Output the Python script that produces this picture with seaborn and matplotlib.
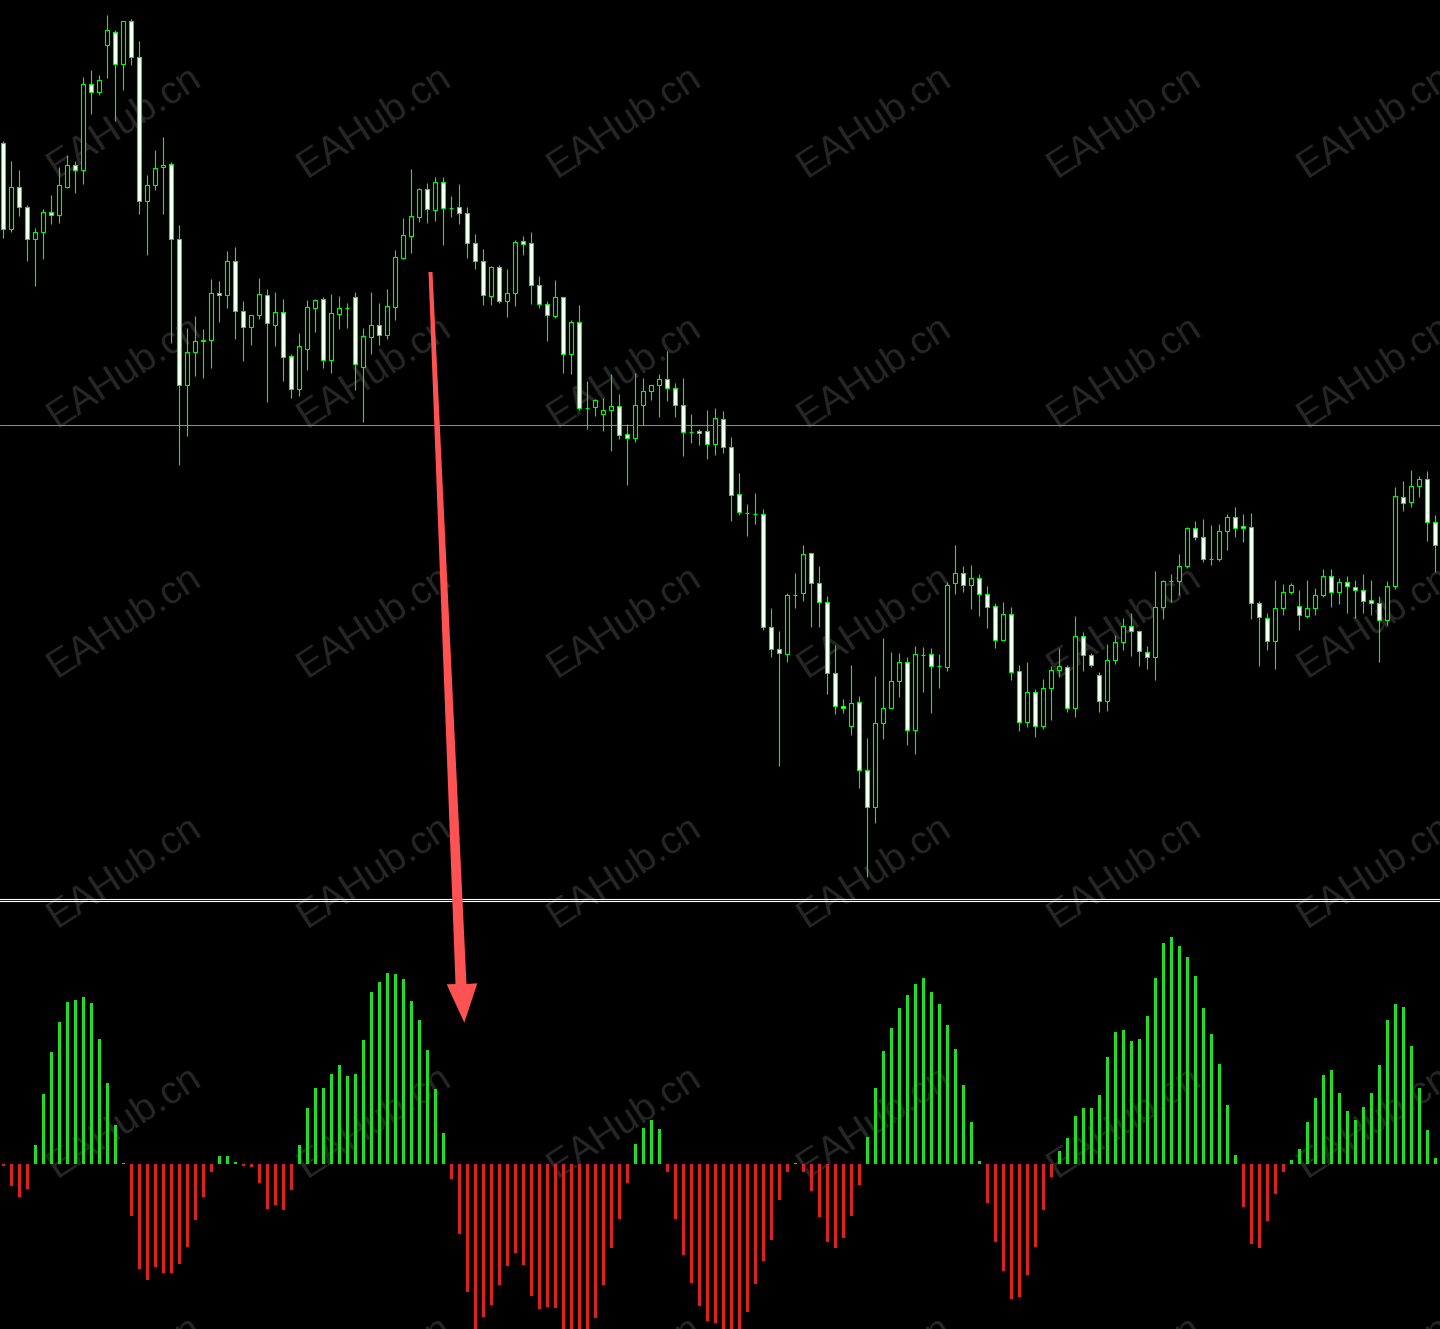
import numpy as np
import pandas as pd
import matplotlib
matplotlib.use("Agg")
import matplotlib.pyplot as plt
from matplotlib.patches import Polygon
import seaborn as sns

# OHLC candles (price units)
opens = [757, 671, 713, 693, 661, 668, 688, 685, 713, 735,
         730, 816, 808, 855, 868, 836, 879, 843, 699, 715,
         733, 736, 661, 515, 548, 559, 560, 607, 605, 639,
         589, 573, 585, 605, 575, 588, 544, 511, 551, 592,
         601, 540, 586, 592, 603, 533, 563, 575, 565, 593,
         642, 664, 683, 711, 690, 718, 692, 693, 687, 657,
         639, 604, 633, 599, 607, 659, 657, 615, 596, 584,
         603, 546, 578, 492, 493, 486, 490, 494, 466, 462,
         495, 509, 515, 521, 512, 495, 468, 469, 469, 456,
         481, 453, 406, 387, 386, 386, 273, 251, 246, 305,
         307, 347, 317, 298, 227, 194, 174, 198, 130, 93,
         177, 192, 219, 238, 170, 245, 246, 234, 233, 317,
         327, 315, 322, 306, 294, 260, 286, 229, 178, 208,
         174, 212, 230, 233, 192, 264, 245, 225, 199, 240,
         258, 274, 269, 248, 243, 293, 319, 319, 334, 372,
         363, 341, 341, 369, 383, 374, 373, 297, 282, 259,
         292, 308, 294, 284, 292, 305, 324, 308, 318, 313,
         310, 300, 297, 280, 314, 403, 398, 414, 421, 378]

highs = [759, 739, 730, 695, 672, 691, 705, 733, 745, 739,
         823, 830, 825, 885, 870, 879, 881, 859, 725, 750,
         763, 738, 675, 572, 584, 571, 621, 619, 649, 653,
         599, 585, 622, 611, 608, 601, 546, 567, 600, 601,
         603, 606, 604, 597, 608, 572, 608, 597, 611, 650,
         682, 731, 712, 717, 723, 723, 704, 716, 693, 666,
         651, 634, 635, 631, 660, 664, 668, 624, 599, 620,
         603, 580, 595, 519, 501, 502, 526, 506, 476, 527,
         522, 515, 526, 549, 517, 522, 486, 471, 490, 492,
         489, 463, 427, 396, 407, 391, 292, 269, 307, 327,
         355, 347, 334, 304, 255, 201, 235, 204, 162, 224,
         262, 248, 247, 243, 254, 253, 252, 246, 318, 355,
         334, 335, 326, 314, 297, 298, 293, 235, 238, 211,
         221, 234, 252, 235, 284, 268, 247, 228, 256, 265,
         282, 287, 269, 254, 329, 320, 326, 346, 373, 379,
         381, 375, 376, 386, 393, 386, 387, 299, 287, 320,
         316, 317, 310, 320, 312, 331, 331, 322, 324, 320,
         326, 320, 304, 319, 413, 419, 430, 424, 429, 385]

lows = [662, 668, 684, 639, 614, 641, 676, 677, 712, 707,
        716, 786, 805, 822, 779, 810, 835, 686, 645, 710,
        686, 557, 435, 464, 524, 522, 532, 578, 592, 561,
        539, 555, 581, 498, 554, 519, 502, 504, 530, 568,
        532, 527, 571, 572, 510, 478, 546, 555, 561, 580,
        641, 647, 678, 677, 679, 655, 683, 676, 642, 631,
        595, 595, 597, 583, 594, 645, 596, 592, 559, 582,
        527, 526, 490, 471, 484, 469, 449, 461, 415, 458,
        475, 500, 483, 499, 483, 444, 457, 455, 441, 445,
        447, 379, 385, 364, 376, 270, 243, 134, 238, 292,
        299, 273, 273, 206, 186, 187, 165, 112, 23, 77,
        161, 192, 203, 155, 146, 208, 187, 212, 229, 306,
        308, 291, 284, 272, 252, 260, 220, 169, 173, 163,
        171, 180, 223, 188, 183, 229, 233, 188, 189, 236,
        250, 244, 234, 231, 220, 281, 298, 305, 332, 360,
        338, 335, 339, 350, 363, 358, 281, 234, 250, 231,
        285, 306, 270, 282, 285, 303, 293, 296, 287, 282,
        287, 285, 238, 275, 311, 389, 393, 403, 359, 328]

closes = [671, 713, 693, 661, 668, 688, 685, 715, 735, 730,
          816, 808, 820, 870, 836, 879, 843, 699, 715, 732,
          735, 661, 515, 548, 559, 560, 607, 605, 639, 589,
          573, 585, 606, 577, 588, 543, 511, 554, 593, 600,
          540, 587, 592, 592.5, 536, 564, 575, 565, 594, 643,
          665, 684, 711, 691, 718, 692, 692.5, 687, 657, 639,
          605, 633, 599, 607, 658, 656, 615, 596, 585, 603,
          546, 578, 492, 492.5, 500, 490, 494, 465, 462, 495,
          509, 515, 521, 512, 495, 468, 468.5, 467, 456, 482,
          453, 405, 388, 387.5, 386.5, 273, 251, 247, 305, 305.5,
          346, 317, 298, 227, 194, 192, 197, 130, 93, 177,
          192, 219, 238, 170, 246, 245.5, 234, 234.5, 315, 327,
          315, 322, 306, 293, 260, 286, 228, 178, 208, 174,
          212, 230, 234, 192, 264, 245, 235, 199, 240, 258,
          274, 269, 249, 243, 293, 319, 319.5, 334, 372, 363,
          341, 341.5, 369, 383, 372, 372, 297, 283, 259, 292,
          308, 315, 285, 292, 305, 324, 308, 318, 314, 310,
          299, 297, 280, 314, 404, 397, 414, 421, 378, 355]

# oscillator histogram
hist_values = [-1.5, -22, -33, -25, 19, 70, 112, 142, 162, 164,
               167, 161, 125, 81, 39, 0.7, -52, -105, -116, -103,
               -109, -109, -100, -83, -56, -33, -8, 8, 8, 2,
               -1.5, -2.5, -19, -45, -41, -46, -26, 19, 56, 76,
               76, 90, 99, 88, 90, 124, 172, 182, 191, 190,
               185, 163, 144, 114, 75, 31, -15, -70, -128, -175,
               -153, -141, -121, -102, -89, -101, -132, -145, -143, -144,
               -170, -175, -175, -170, -154, -121, -84, -55, -19, 20,
               36, 44, 35, -8, -55, -91, -119, -142, -157, -159,
               -170, -175, -168, -148, -120, -97, -76, -36, -8, 0.7,
               -8, -27, -53, -78, -84, -74, -52, -21, 27, 76,
               113, 136, 156, 169, 180, 186, 172, 160, 139, 115,
               79, 42, 3, -39, -78, -107, -135, -133, -111, -83,
               -46, -13, 13, 26, 48, 56, 56, 69, 107, 132,
               134, 123, 125, 148, 186, 221, 227, 218, 207, 188,
               156, 130, 100, 59, 9, -43, -80, -84, -57, -30,
               -8, 4, 15, 42, 66, 89, 94, 71, 53, 44,
               57, 71, 99, 144, 160, 157, 118, 76, 34, 6]

level_price = 475
watermark = "EAHub.cn"

sns.set_style("dark", {"axes.facecolor": "black", "figure.facecolor": "black"})

W, H = 1440, 1329
fig = plt.figure(figsize=(W / 100, H / 100), dpi=100, facecolor="black")
ax_price = fig.add_axes([0, 430 / H, 1, 899 / H])
ax_osc = fig.add_axes([0, 0, 1, 428 / H])

x = np.arange(len(opens))
o = np.array(opens, dtype=float)
hi = np.array(highs, dtype=float)
lo = np.array(lows, dtype=float)
c = np.array(closes, dtype=float)

# candles: wicks + bodies (bear = white, bull = black, lime outline)
ax_price.axhline(level_price, color="#8a8a8a", lw=0.75, zorder=1)
ax_price.vlines(x, lo, hi, color="#00ff00", lw=0.8, zorder=2)
body_colors = np.where(c < o, "white", "black")
ax_price.bar(x, np.abs(c - o), bottom=np.minimum(o, c), width=0.5,
             color=body_colors, edgecolor="#00ff00", linewidth=0.8, zorder=3)
ax_price.set_ylim(1, 900)

# histogram
df = pd.DataFrame({"bar": x, "value": hist_values})
df["sign"] = np.where(df["value"] >= 0, "up", "down")
sns.barplot(data=df, x="bar", y="value", hue="sign",
            palette={"up": "#00ff00", "down": "#ff0000"},
            dodge=False, width=0.375, native_scale=True, errorbar=None,
            legend=False, linewidth=0, ax=ax_osc)
ax_osc.set_ylim(-165, 263)

for ax in (ax_price, ax_osc):
    ax.set_facecolor("none")
    ax.set_xlim(-0.4125, 179.5875)
    ax.set_xticks([])
    ax.set_yticks([])
    ax.set_xlabel("")
    ax.set_ylabel("")
    for s in ax.spines.values():
        s.set_visible(False)
ax_price.spines["bottom"].set_visible(True)
ax_price.spines["bottom"].set_color("white")
ax_price.spines["bottom"].set_linewidth(0.8)
ax_osc.spines["top"].set_visible(True)
ax_osc.spines["top"].set_color("white")
ax_osc.spines["top"].set_linewidth(0.8)

# watermark grid behind everything (tiles run off the edges, as in the original)
for cy in range(122, H + 250, 250):
    for cx in range(125, W + 250, 250):
        fig.text(cx / W, 1 - cy / H, watermark, rotation=33, rotation_mode="anchor",
                 ha="center", va="center", fontsize=28, color="#272727",
                 family="Liberation Sans", zorder=-1)

# red annotation arrow
pts = [(428.5, 272), (432.5, 272), (466.5, 984), (477.3, 983.3),
       (464.3, 1022.7), (446.7, 984.3), (455.5, 984)]
arrow = Polygon([(px / W, 1 - py / H) for px, py in pts], closed=True,
                transform=fig.transFigure, facecolor="#ff5252",
                edgecolor="none", zorder=10)
fig.add_artist(arrow)

fig.savefig("out.png", dpi=100, facecolor="black")
